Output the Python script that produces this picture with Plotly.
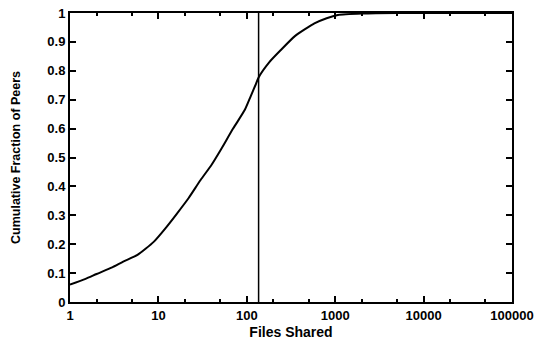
import plotly.graph_objects as go

files_shared = [1, 1.5, 2, 3, 4, 5.8, 8.9, 12, 16.3, 22, 30, 40, 50.6, 70, 95, 110, 125, 136, 180, 243, 350, 582, 800, 1072, 2000, 5000, 100000]
cum_fraction = [0.06, 0.08, 0.097, 0.12, 0.14, 0.163, 0.209, 0.255, 0.307, 0.36, 0.422, 0.475, 0.526, 0.60, 0.665, 0.71, 0.75, 0.777, 0.83, 0.872, 0.92, 0.964, 0.982, 0.993, 0.998, 1.0, 1.0]
threshold = 136

x_ticks = [1, 10, 100, 1000, 10000, 100000]
x_tick_labels = ["1", "10", "100", "1000", "10000", "100000"]
y_ticks = [0, 0.1, 0.2, 0.3, 0.4, 0.5, 0.6, 0.7, 0.8, 0.9, 1]
y_tick_labels = ["0", "0.1", "0.2", "0.3", "0.4", "0.5", "0.6", "0.7", "0.8", "0.9", "1"]

fig = go.Figure()
fig.add_trace(go.Scatter(x=files_shared, y=cum_fraction, mode="lines",
                         line=dict(color="black", width=2, shape="spline", smoothing=0.6),
                         showlegend=False))
fig.add_trace(go.Scatter(x=[threshold, threshold], y=[0, 1], mode="lines",
                         line=dict(color="black", width=1.5), showlegend=False))

font = dict(family="Liberation Sans, Arial, sans-serif", color="black", size=13, weight="bold")
fig.update_layout(
    width=537, height=349,
    margin=dict(l=70, r=25, t=13, b=47),
    paper_bgcolor="white", plot_bgcolor="white",
    font=font,
)
fig.update_xaxes(type="log", range=[0, 5], tickvals=x_ticks, ticktext=x_tick_labels,
                 automargin=False,
                 ticks="inside", ticklen=6, tickwidth=1.5, tickcolor="black",
                 minor=dict(ticks="inside", ticklen=3, tickcolor="black", showgrid=False),
                 showline=True, linecolor="black", linewidth=2, mirror="ticks",
                 showgrid=False, zeroline=False,
                 title=dict(text="Files Shared", font=dict(size=14, weight="bold", color="black"), standoff=6),
                 tickfont=dict(size=13, weight="bold", color="black"))
fig.update_yaxes(range=[0, 1], tickvals=y_ticks, ticktext=y_tick_labels,
                 automargin=False,
                 ticks="inside", ticklen=6, tickwidth=1.5, tickcolor="black",
                 showline=True, linecolor="black", linewidth=2, mirror="ticks",
                 showgrid=False, zeroline=False,
                 title=dict(text="Cumulative Fraction of Peers", font=dict(size=12.5, weight="bold", color="#000000"), standoff=24),
                 tickfont=dict(size=13, weight="bold", color="black"))

fig.write_html("out.html")
